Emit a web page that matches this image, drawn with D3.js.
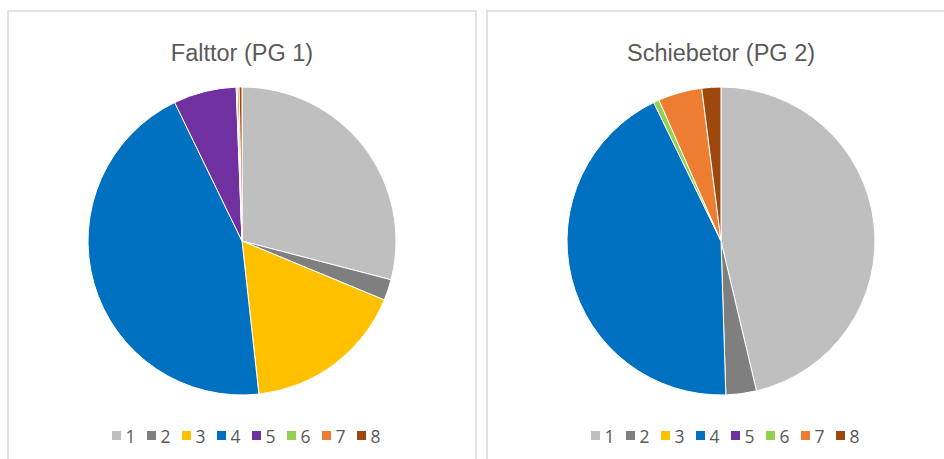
<!DOCTYPE html>
<html>
<head>
<meta charset="utf-8">
<script src="https://cdn.jsdelivr.net/npm/d3@7"></script>
<style>
    body { margin: 0; background: #fff; }
    .panel { fill: #fff; stroke: #d9d9d9; stroke-width: 1.5; }
    .title { font-family: "Liberation Sans", Arial, sans-serif; font-size: 23.5px; fill: #595959; }
    .legendText { font-family: "Open Sans", sans-serif; font-size: 17.5px; fill: #595959; }
    .slice { stroke: #fff; stroke-width: 1; }
</style>
</head>
<body>
<script>
//chart data (percent)
var categories = ["1", "2", "3", "4", "5", "6", "7", "8"];
var colors = ["#bfbfbf", "#7f7f7f", "#ffc000", "#0070c0", "#7030a0", "#92d050", "#ed7d31", "#9e480e"];
var titles = ["Falttor (PG 1)", "Schiebetor (PG 2)"];
var falttor = [29.05, 2.2, 17.0, 44.55, 6.6, 0.1, 0.2, 0.3];
var schiebetor = [46.3, 3.2, 0, 43.3, 0, 0.6, 4.6, 2.0];

window.onload = setChart();

function setChart(){

    //frame dimensions
    var width = 944,
        height = 459;

    var svg = d3.select("body")
        .append("svg")
        .attr("width", width)
        .attr("height", height);

    //one panel per chart
    var panels = [
        {x: 8, title: titles[0], values: falttor},
        {x: 487, title: titles[1], values: schiebetor}
    ];
    var panelWidth = 468,
        radius = 154;

    //colour scale by category
    var color = d3.scaleOrdinal()
        .domain(categories)
        .range(colors);

    var pie = d3.pie()
        .sort(null)
        .value(function(d){ return d.value; });

    var arc = d3.arc()
        .innerRadius(0)
        .outerRadius(radius);

    panels.forEach(function(p){
        var g = svg.append("g")
            .attr("transform", "translate(" + p.x + ",0)");

        //panel frame, bottom runs off the page
        g.append("rect")
            .attr("class", "panel")
            .attr("x", 0)
            .attr("y", 11)
            .attr("width", panelWidth)
            .attr("height", height + 10);

        var cx = panelWidth / 2;

        g.append("text")
            .attr("class", "title")
            .attr("x", cx)
            .attr("y", 61)
            .attr("text-anchor", "middle")
            .text(p.title);

        var data = categories.map(function(c, i){
            return {cat: c, value: p.values[i]};
        });

        //pie slices
        g.append("g")
            .attr("transform", "translate(" + cx + ",241)")
            .selectAll(".slice")
            .data(pie(data).filter(function(d){ return d.data.value > 0; }))
            .enter()
            .append("path")
            .attr("class", "slice")
            .attr("fill", function(d){ return color(d.data.cat); })
            .attr("d", arc);

        //legend, centred under the pie
        var step = 35,
            legendWidth = step * (categories.length - 1) + 15;
        var legend = g.append("g")
            .attr("transform", "translate(" + (cx - legendWidth / 2) + ",431)");

        var items = legend.selectAll(".legendItem")
            .data(categories)
            .enter()
            .append("g")
            .attr("class", "legendItem")
            .attr("transform", function(d, i){ return "translate(" + (i * step) + ",0)"; });

        items.append("rect")
            .attr("width", 9)
            .attr("height", 9)
            .attr("fill", function(d){ return color(d); });

        items.append("text")
            .attr("class", "legendText")
            .attr("x", 13.5)
            .attr("y", 11.5)
            .text(function(d){ return d; });
    });
};
</script>
</body>
</html>
